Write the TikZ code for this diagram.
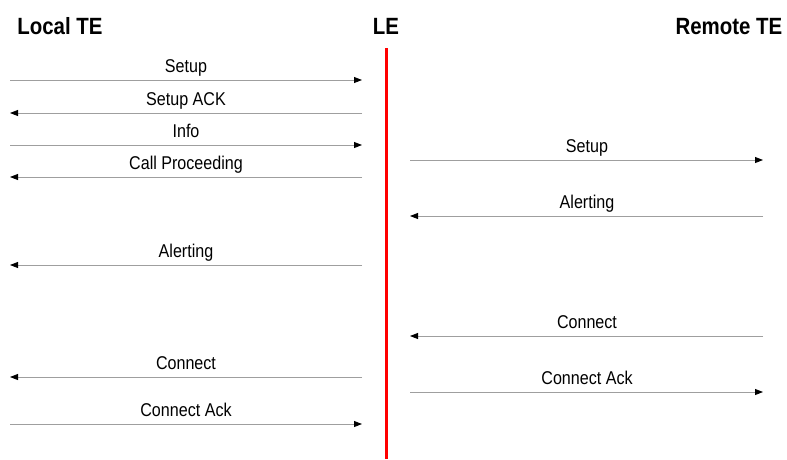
\documentclass[tikz,border=0pt]{standalone}
\usepackage{fontspec}
\setmainfont{Liberation Sans}[FakeStretch=0.87]
\usetikzlibrary{arrows.meta,positioning}
\tikzset{
  msg/.style={draw=gray!75, line width=0.9pt, -{Triangle[length=8pt,width=6pt,black]}},
  msglabel/.style={anchor=base, inner sep=0pt, font=\fontsize{18.5}{21}\selectfont},
  party/.style={anchor=base, inner sep=0pt, font=\bfseries\fontsize{23.5}{26}\selectfont},
}

\begin{document}
\begin{tikzpicture}[x=1pt,y=-1pt]
            \useasboundingbox (0,0) rectangle (787,459);
            \node[party] (local) at (60,34) {Local TE};
            \node[party] (le) at (386,34) {LE};
            \node[party] (remote) at (729,34) {Remote TE};

            % the exchange line
            \coordinate (letop) at (386,48);
            \coordinate (lebot) at (386,459);
            \draw[red, line width=3pt] (letop) -- (lebot);

            % local side
            \foreach \y/\xa/\xb/\txt [count=\i] in {80/10/362/Setup, 113/362/10/Setup ACK, 145/10/362/Info, 177/362/10/Call Proceeding, 265/362/10/Alerting, 377/362/10/Connect, 424/10/362/Connect Ack}
            {
            \coordinate (lfrom\i) at (\xa,\y);
            \coordinate (lto\i) at (\xb,\y);
            \draw[msg] (lfrom\i) -- (lto\i);
            \node[msglabel] (lmsg\i) at (186,\y-8) {\txt};
            }

            % remote side
            \foreach \y/\xa/\xb/\txt [count=\i] in {160/410/763/Setup, 216/763/410/Alerting, 336/763/410/Connect, 392/410/763/Connect Ack}
            {
            \coordinate (rfrom\i) at (\xa,\y);
            \coordinate (rto\i) at (\xb,\y);
            \draw[msg] (rfrom\i) -- (rto\i);
            \node[msglabel] (rmsg\i) at (587,\y-8) {\txt};
            }
\end{tikzpicture}
\end{document}
